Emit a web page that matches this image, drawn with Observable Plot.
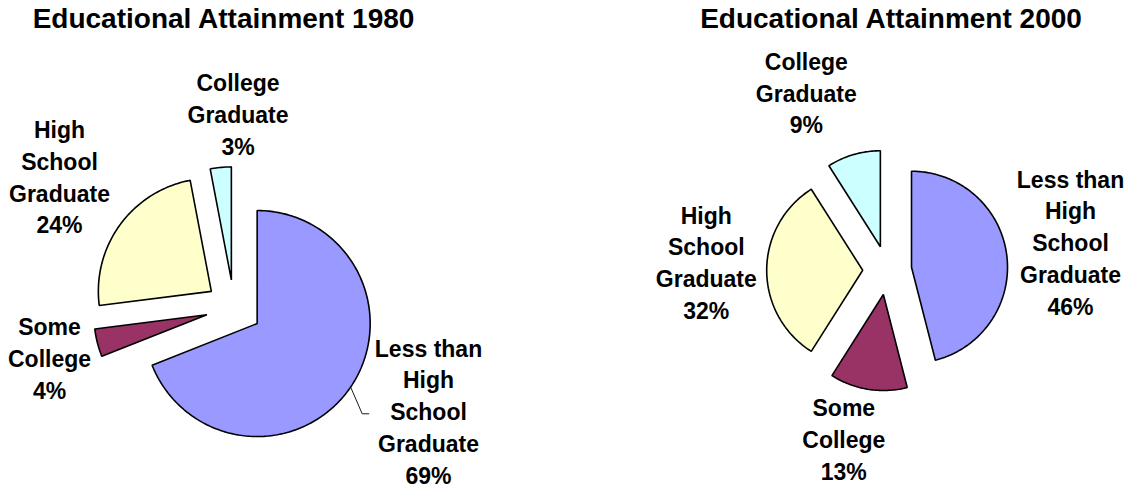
<!DOCTYPE html>
<html>
<head>
<meta charset="utf-8">
<script src="https://cdn.jsdelivr.net/npm/d3@7"></script>
<script src="https://cdn.jsdelivr.net/npm/@observablehq/plot@0.6"></script>
<style>
  html, body { margin: 0; padding: 0; background: #ffffff; }
  svg { display: block; }
</style>
</head>
<body>
<script>
// ---- data ----
const categories = ["Less than High School Graduate", "Some College", "High School Graduate", "College Graduate"];
const categoryLabels = ["Less than\nHigh\nSchool\nGraduate", "Some\nCollege", "High\nSchool\nGraduate", "College\nGraduate"];
const years = ["1980", "2000"];
const values1980 = [69, 4, 24, 3];
const values2000 = [46, 13, 32, 9];
const titles = ["Educational Attainment 1980", "Educational Attainment 2000"];
const colors = ["#9999FF", "#993366", "#FFFFCC", "#CCFFFF"];

// ---- layout (pixels) ----
const W = 1132, H = 489;
const FONT = "Arial, 'Liberation Sans', Helvetica, sans-serif";
const layout = [
  { cx: 233.5, cy: 307.3, r: 113, explode: 28, titleX: 223, titleY: 27,
    labels: [[428, 483], [49, 398], [59, 232.7], [237.5, 154]],
    leader: { slice: 0, to: [[361.7, 413.3], [368.3, 413.3]] } },
  { cx: 886.7, cy: 269.8, r: 96, explode: 24.5, titleX: 890.5, titleY: 27,
    labels: [[1070, 314], [843.3, 479.3], [705.8, 318.3], [805.8, 132.7]],
    leader: null }
];

const series = [values1980, values2000];
const marks = [];

series.forEach((vals, p) => {
  const L = layout[p];
  const arcs = d3.pie().sort(null).value(d => d)(vals);
  const apexes = [];
  arcs.forEach((a, i) => {
    const mid = (a.startAngle + a.endAngle) / 2;
    const ax = L.cx + L.explode * Math.sin(mid);
    const ay = L.cy - L.explode * Math.cos(mid);
    apexes.push({ ax, ay, mid });
    const n = Math.max(2, Math.ceil((a.endAngle - a.startAngle) * 180 / Math.PI));
    const pts = [{ x: ax, y: ay }];
    for (let k = 0; k <= n; k++) {
      const t = a.startAngle + (a.endAngle - a.startAngle) * k / n;
      pts.push({ x: ax + L.r * Math.sin(t), y: ay - L.r * Math.cos(t) });
    }
    marks.push(Plot.line(pts, {
      x: "x", y: "y", fill: colors[i], stroke: "black", strokeWidth: 1.6,
      curve: "linear-closed", strokeLinejoin: "miter"
    }));
  });

  // leader line
  if (L.leader) {
    const s = apexes[L.leader.slice];
    const start = { x: s.ax + L.r * Math.sin(s.mid), y: s.ay - L.r * Math.cos(s.mid) };
    const pts = [start, ...L.leader.to.map(([x, y]) => ({ x, y }))];
    marks.push(Plot.line(pts, { x: "x", y: "y", stroke: "black", strokeWidth: 0.9 }));
  }

  // data labels
  const labelData = vals.map((v, i) => ({
    x: L.labels[i][0], y: L.labels[i][1],
    text: categoryLabels[i] + "\n" + v + "%"
  }));
  marks.push(Plot.text(labelData, {
    x: "x", y: "y", text: "text", fontSize: 23, fontWeight: "bold", fontFamily: FONT,
    textAnchor: "middle", lineAnchor: "bottom", lineHeight: 1.378, fill: "black"
  }));

  // title
  marks.push(Plot.text([titles[p]], {
    x: () => L.titleX, y: () => L.titleY, text: d => d, fontSize: 28, fontWeight: "bold",
    fontFamily: FONT, textAnchor: "middle", lineAnchor: "bottom", fill: "black"
  }));
});

const chart = Plot.plot({
  width: W, height: H, margin: 0,
  x: { domain: [0, W], range: [0, W], axis: null },
  y: { domain: [0, H], range: [0, H], axis: null },
  style: { background: "#ffffff", overflow: "visible" },
  marks
});
document.body.appendChild(chart);
</script>
</body>
</html>
